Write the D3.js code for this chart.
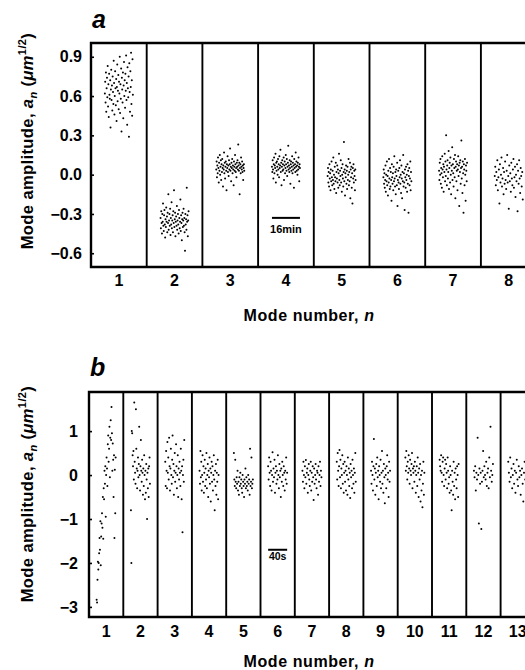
<!DOCTYPE html>
<html>
<head>
<meta charset="utf-8">
<script src="https://cdn.jsdelivr.net/npm/d3@7"></script>
<style>
  html, body { margin: 0; padding: 0; background: #fff; overflow: hidden; }
  svg { display: block; }
  text { font-family: "Liberation Sans", Arial, Helvetica, sans-serif; font-weight: bold; fill: #000; }
</style>
</head>
<body>
<svg id="chart" width="525" height="670"></svg>
<script>
// ---------- DATA (panel a: 8 modes, 16 min record) ----------
const modesA = [1, 2, 3, 4, 5, 6, 7, 8];
const ticksA = [-0.6, -0.3, 0.0, 0.3, 0.6, 0.9];
const a1 = [0.62,0.71,0.55,0.78,0.48,0.66,0.74,0.59,0.83,0.52,0.69,0.44,0.77,0.61,0.58,0.72,0.36,0.65,0.80,0.57,0.68,0.49,0.75,0.63,0.54,0.87,0.70,0.46,0.60,0.79,0.66,0.53,0.73,0.41,0.67,0.84,0.56,0.64,0.76,0.50,0.71,0.62,0.90,0.47,0.69,0.58,0.81,0.33,0.74,0.65,0.55,0.78,0.43,0.68,0.86,0.60,0.72,0.51,0.77,0.64,0.91,0.57,0.70,0.38,0.82,0.66,0.59,0.75,0.29,0.85,0.63,0.48,0.79,0.67,0.93,0.54,0.72,0.45,0.88,0.61];
const a2 = [-0.33,-0.41,-0.28,-0.37,-0.45,-0.30,-0.36,-0.22,-0.39,-0.43,-0.31,-0.27,-0.38,-0.48,-0.34,-0.40,-0.25,-0.36,-0.32,-0.44,-0.29,-0.37,-0.15,-0.42,-0.35,-0.30,-0.39,-0.26,-0.46,-0.33,-0.38,-0.21,-0.41,-0.35,-0.31,-0.44,-0.28,-0.37,-0.12,-0.40,-0.34,-0.29,-0.47,-0.36,-0.32,-0.39,-0.24,-0.42,-0.35,-0.30,-0.38,-0.45,-0.27,-0.33,-0.41,-0.36,-0.19,-0.43,-0.31,-0.37,-0.50,-0.34,-0.29,-0.40,-0.35,-0.26,-0.39,-0.33,-0.44,-0.58,-0.30,-0.38,-0.34,-0.42,-0.10,-0.36,-0.31,-0.47,-0.35,-0.28];
const a3 = [0.04,0.10,-0.02,0.07,0.01,0.13,0.05,-0.06,0.09,0.03,0.15,0.00,0.06,0.11,-0.04,0.08,0.02,0.12,0.05,-0.09,0.07,0.04,0.17,0.01,0.09,-0.03,0.06,0.10,0.03,-0.12,0.08,0.05,0.14,0.02,0.07,-0.01,0.11,0.04,0.08,0.20,0.03,0.06,-0.05,0.09,0.05,0.12,0.01,0.07,0.04,-0.08,0.10,0.06,0.03,0.15,0.08,0.02,0.05,-0.02,0.09,0.06,0.11,0.04,0.23,0.07,0.03,0.09,-0.15,0.05,0.08,0.01,0.13,0.06,0.04,0.10,0.02,0.07,-0.04,0.05,0.08,0.03];
const a4 = [0.06,0.02,0.11,0.04,-0.03,0.08,0.13,0.01,0.07,0.05,0.16,-0.06,0.09,0.03,0.10,0.06,0.00,0.12,0.04,0.08,-0.02,0.14,0.05,0.07,0.19,0.02,0.09,-0.08,0.06,0.11,0.03,0.08,0.04,0.13,-0.04,0.07,0.10,0.01,0.05,0.15,0.08,0.03,0.12,-0.01,0.06,0.09,0.22,0.04,0.07,0.02,0.11,0.05,-0.07,0.08,0.10,0.03,0.06,0.14,0.01,0.09,0.04,0.07,-0.10,0.12,0.05,0.08,0.02,0.17,0.06,0.10,0.03,0.07,0.00,0.09,0.04,0.13,0.06,-0.05,0.08,0.05];
const a5 = [-0.01,0.05,-0.06,0.02,-0.09,0.08,-0.03,0.01,-0.12,0.04,-0.05,0.10,-0.02,-0.08,0.03,-0.04,0.13,-0.07,0.00,-0.11,0.06,-0.02,-0.05,0.09,-0.14,0.02,-0.03,0.07,-0.06,0.04,-0.10,0.01,0.16,-0.04,-0.08,0.03,-0.01,0.11,-0.06,0.05,-0.13,0.00,0.08,-0.03,-0.09,0.02,0.25,-0.05,0.04,-0.16,0.01,-0.02,0.07,-0.07,0.03,-0.11,0.06,-0.04,0.00,0.12,-0.08,0.02,-0.05,0.09,-0.18,0.04,-0.02,0.06,-0.10,0.01,-0.22,0.05,-0.03,0.08,-0.06,0.03,-0.01,-0.12,0.04,-0.04];
const a6 = [-0.02,0.04,-0.07,0.01,-0.10,-0.04,0.07,-0.13,0.00,-0.05,0.10,-0.08,-0.01,-0.16,0.03,-0.06,0.12,-0.03,-0.11,0.05,-0.09,0.02,-0.04,-0.20,0.08,-0.02,-0.07,0.01,-0.12,0.06,-0.05,0.14,-0.03,-0.09,0.02,-0.15,0.04,-0.01,-0.08,0.09,-0.24,-0.04,0.03,-0.06,-0.11,0.05,-0.02,0.11,-0.07,0.00,-0.14,0.07,-0.03,-0.18,0.02,-0.05,0.15,-0.09,0.01,-0.06,-0.27,0.04,-0.02,-0.10,0.06,-0.04,0.00,-0.13,0.08,-0.07,0.03,-0.29,-0.01,0.05,-0.08,-0.03,0.10,-0.12,0.02,-0.05];
const a7 = [0.03,-0.04,0.09,0.00,0.12,-0.07,0.05,0.01,-0.10,0.14,0.04,-0.02,0.08,-0.13,0.06,0.02,0.16,-0.05,0.10,-0.01,0.30,0.04,-0.08,0.07,0.11,-0.03,0.02,0.18,-0.11,0.05,0.09,-0.06,0.13,0.00,-0.15,0.07,0.03,0.21,-0.04,0.08,0.01,-0.09,0.12,0.05,-0.02,0.15,-0.18,0.06,0.10,-0.05,0.03,0.08,-0.12,0.04,0.14,-0.01,0.07,-0.24,0.09,0.02,0.11,-0.07,0.05,0.26,-0.03,0.06,-0.14,0.10,0.01,-0.29,0.08,0.04,-0.08,0.12,0.00,-0.20,0.07,0.03,-0.05,0.09];
const a8 = [-0.01,0.06,-0.08,0.02,-0.04,0.11,-0.12,-0.02,0.04,-0.22,0.08,-0.06,0.00,0.13,-0.09,-0.03,0.05,-0.15,0.02,-0.07,0.10,-0.04,-0.11,0.03,0.15,-0.06,-0.01,-0.26,0.07,-0.05,0.01,-0.13,0.09,-0.03,-0.08,0.04,0.12,-0.10,-0.02,0.06,-0.17,0.00,-0.05,0.08,-0.28,0.03,-0.07,0.11,-0.03,-0.14,0.05,-0.01,-0.09,0.02,-0.19];

// ---------- DATA (panel b: 13 modes, 40 s record) ----------
const modesB = [1, 2, 3, 4, 5, 6, 7, 8, 9, 10, 11, 12, 13];
const ticksB = [-3, -2, -1, 0, 1];
const b1 = [-2.84,-2.90,-2.38,-1.97,-2.15,-2.00,-1.78,-1.43,-1.70,-1.05,-2.05,-1.40,-1.10,-0.87,-1.20,-0.50,-1.45,-0.30,-0.55,0.10,-0.20,0.20,-0.95,0.00,0.40,0.15,-0.25,0.70,0.90,0.30,0.60,1.10,-0.05,0.85,1.25,0.80,1.55,0.95,0.10,0.72,0.35,-0.50,0.45,-1.43,0.12,-0.87,0.40];
const b2 = [-0.80,-2.00,1.00,0.95,0.45,0.20,0.55,-0.10,1.65,0.30,0.05,-0.20,1.50,0.60,0.15,-0.30,0.10,0.40,-0.05,0.25,1.10,0.00,-0.35,0.20,0.80,0.10,-0.15,0.35,0.05,-0.45,0.15,-0.25,0.45,0.00,-0.55,0.10,-0.40,0.25,-0.10,-1.00,0.05,-0.30,0.15,-0.50,0.20,0.40,-0.20];
const b3 = [0.30,-0.25,0.55,0.10,-0.30,0.75,0.05,0.40,-0.10,0.85,0.20,-0.35,0.15,0.60,0.00,-0.20,0.35,0.90,-0.05,0.25,-0.45,0.10,0.50,-0.15,0.05,0.70,0.20,-0.30,0.00,0.45,-0.50,0.15,-0.10,0.30,0.05,-0.25,0.60,0.10,-0.55,0.20,-1.30,0.00,0.35,-0.15,0.80];
const b4 = [0.10,-0.20,0.55,-0.05,0.30,-0.35,0.00,0.45,-0.15,0.20,-0.40,0.05,0.35,-0.25,0.15,-0.10,0.50,-0.30,0.00,0.25,-0.50,0.10,-0.05,0.40,-0.20,0.15,-0.60,0.05,0.30,-0.15,0.20,-0.35,0.00,0.45,-0.10,-0.80,0.10,-0.25,0.25,-0.45,0.05,-0.15,0.35,-0.55,0.00];
const b5 = [0.50,-0.10,-0.25,0.35,-0.15,-0.30,-0.05,-0.20,0.10,-0.35,-0.15,-0.45,-0.05,-0.25,0.05,-0.20,-0.10,-0.30,-0.40,0.00,-0.15,-0.25,-0.50,-0.10,-0.20,0.15,-0.30,-0.05,-0.25,-0.15,-0.35,0.00,-0.20,-0.10,-0.45,0.60,-0.25,-0.15,0.40,-0.30,-0.20,-0.10];
const b6 = [0.20,-0.10,0.40,0.05,-0.25,0.30,0.10,-0.35,0.00,0.52,-0.15,0.15,-0.05,0.35,-0.40,0.05,0.20,-0.20,0.10,-0.10,0.45,0.00,-0.30,0.25,-0.05,0.10,-0.50,0.15,-0.15,0.30,0.00,-0.25,0.20,0.05,-0.35,0.10,-0.10,0.40,-0.20,0.05];
const b7 = [0.10,-0.15,0.30,0.00,-0.30,0.20,-0.05,0.34,-0.20,0.05,0.15,-0.40,0.00,0.25,-0.10,-0.25,0.10,0.30,-0.35,0.05,-0.15,0.20,-0.05,-0.57,0.15,-0.20,0.00,0.25,-0.10,-0.30,0.10,0.05,-0.45,0.20,-0.15,0.00,0.30,-0.25,0.10,-0.05];
const b8 = [0.30,-0.10,0.50,0.10,-0.25,0.20,0.57,-0.05,0.35,-0.30,0.15,0.00,0.45,-0.20,0.25,-0.40,0.05,0.30,-0.15,0.10,-0.35,0.20,0.00,-0.45,0.40,-0.10,0.15,-0.25,0.05,-0.52,0.25,-0.05,0.10,-0.30,0.35,0.00,-0.20,0.15,-0.40,0.05,0.50,-0.15];
const b9 = [0.10,-0.20,0.30,0.00,-0.35,0.20,0.82,-0.10,0.15,-0.45,0.05,0.25,-0.25,0.40,-0.05,0.10,-0.55,0.20,0.00,-0.15,0.35,-0.30,0.05,0.55,-0.20,0.10,-0.40,0.25,-0.05,-0.64,0.15,0.00,-0.30,0.20,0.45,-0.10,0.05,-0.50,0.30,-0.15,0.10];
const b10 = [0.40,0.10,0.55,0.20,-0.10,0.30,0.05,0.45,0.15,-0.20,0.35,0.10,0.00,0.25,0.50,-0.30,0.15,0.05,0.20,-0.15,0.30,0.10,-0.40,0.00,0.20,-0.25,0.40,0.05,-0.50,0.15,-0.10,0.25,-0.60,0.00,-0.35,0.10,-0.73,-0.20,0.30,-0.45,0.05];
const b11 = [0.35,0.20,0.10,0.45,0.05,-0.15,0.30,0.40,0.00,-0.25,0.15,0.35,-0.10,0.25,0.05,-0.30,0.40,0.10,-0.20,-0.05,-0.40,0.20,0.00,-0.35,-0.80,0.10,-0.15,-0.45,0.30,-0.25,0.05,-0.55,0.15,-0.10,-0.30,0.20,0.00,-0.50,0.25];
const b12 = [0.10,-0.05,0.20,-0.35,0.05,-0.10,0.85,0.00,-1.10,0.15,-0.20,0.05,-1.23,-0.15,0.10,0.55,-0.05,0.20,0.00,-0.10,0.30,-0.25,0.05,0.15,-0.30,0.40,-0.05,1.10,0.10,-0.15,0.00,0.25];
const b13 = [0.30,0.05,-0.15,0.40,-0.05,0.15,-0.30,0.00,0.25,-0.20,0.10,-0.40,0.05,0.35,-0.10,-0.25,0.20,-0.05,0.10,-0.45,0.00,0.15,-0.20,-0.60,0.05,0.30,-0.10,0.00,-0.35,0.15];

const seriesA = [a1, a2, a3, a4, a5, a6, a7, a8];
const seriesB = [b1, b2, b3, b4, b5, b6, b7, b8, b9, b10, b11, b12, b13];

// ---------- DRAWING ----------
const svg = d3.select("#chart");

function panel(cfg) {
  const g = svg.append("g");
  const x = d3.scaleBand().domain(cfg.modes).range([cfg.left, cfg.left + cfg.colW * cfg.modes.length]).padding(0);
  const y = d3.scaleLinear().domain(cfg.yDomain).range([cfg.bottom, cfg.top]);

  // points
  cfg.series.forEach((vals, k) => {
    const n = cfg.modes[k];
    const c = x(n) + x.bandwidth() / 2;
    const t = d3.scaleLinear().domain([0, vals.length - 1]).range([c - cfg.clusterW / 2, c + cfg.clusterW / 2]);
    g.append("g").selectAll("circle").data(vals).join("circle")
      .attr("cx", (d, i) => t(i))
      .attr("cy", d => y(d))
      .attr("r", 1.0)
      .attr("fill", "#000");
  });

  // column dividers
  g.append("g").selectAll("line").data(cfg.modes.slice(1)).join("line")
    .attr("x1", d => x(d)).attr("x2", d => x(d))
    .attr("y1", cfg.top).attr("y2", cfg.bottom)
    .attr("stroke", "#000").attr("stroke-width", 1.9);

  // frame
  const right = cfg.left + cfg.colW * cfg.modes.length;
  g.append("path")
    .attr("d", `M${right},${cfg.top}H${cfg.left}V${cfg.bottom}H${right}`)
    .attr("fill", "none").attr("stroke", "#000").attr("stroke-width", 2.4);

  // y axis
  const ya = g.append("g").attr("transform", `translate(${cfg.left},0)`)
    .call(d3.axisLeft(y).tickValues(cfg.ticks).tickFormat(cfg.fmt).tickSizeInner(-3).tickSizeOuter(0).tickPadding(cfg.yPad));
  ya.select(".domain").remove();
  ya.selectAll("line").attr("stroke-width", 1.6);
  ya.selectAll("text").attr("font-size", 16).attr("font-family", null);

  // x axis
  const xa = g.append("g").attr("transform", `translate(0,${cfg.bottom})`)
    .call(d3.axisBottom(x).tickSize(0).tickPadding(cfg.xPad));
  xa.select(".domain").remove();
  xa.selectAll("text").attr("font-size", 16).attr("font-family", null);

  // x title
  const xt = g.append("text").attr("x", 309).attr("y", cfg.xTitleY)
    .attr("text-anchor", "middle").attr("font-size", 16).attr("letter-spacing", 0.6);
  xt.append("tspan").text("Mode number, ");
  xt.append("tspan").attr("font-style", "italic").text("n");

  // y title
  const yt = g.append("text")
    .attr("transform", `translate(33,${cfg.yTitleY}) rotate(-90)`)
    .attr("text-anchor", "middle").attr("font-size", 16.5).attr("letter-spacing", 0.4);
  yt.append("tspan").text("Mode amplitude, ");
  yt.append("tspan").attr("font-style", "italic").text("a");
  yt.append("tspan").attr("font-style", "italic").attr("font-size", 11).attr("dy", 4).text("n");
  yt.append("tspan").attr("dy", -4).text(" (");
  yt.append("tspan").attr("font-style", "italic").text("\u03BCm");
  yt.append("tspan").attr("font-size", 11).attr("dy", -7).text("1/2");
  yt.append("tspan").attr("dy", 7).text(")");

  // panel letter
  g.append("text").attr("x", cfg.left + 1).attr("y", cfg.letterY)
    .attr("font-size", 25).attr("font-style", "italic").text(cfg.letter);

  // scale bar (cluster width = record duration)
  const sc = x(cfg.barMode) + x.bandwidth() / 2;
  g.append("line")
    .attr("x1", sc - cfg.clusterW / 2).attr("x2", sc + cfg.clusterW / 2)
    .attr("y1", y(cfg.barY)).attr("y2", y(cfg.barY))
    .attr("stroke", "#000").attr("stroke-width", 2);
  g.append("text").attr("x", sc).attr("y", y(cfg.barY) + cfg.barTextDy)
    .attr("text-anchor", "middle").attr("font-size", cfg.barFont).text(cfg.barLabel);
}

panel({
  modes: modesA, series: seriesA, ticks: ticksA, fmt: d3.format(".1f"),
  left: 91, colW: 55.7, top: 43, bottom: 267, yDomain: [-0.705, 1.005],
  clusterW: 28, yPad: 9, xPad: 8, xTitleY: 321, yTitleY: 141,
  letter: "a", letterY: 28, barMode: 4, barY: -0.33, barTextDy: 15, barFont: 11, barLabel: "16min"
});

panel({
  modes: modesB, series: seriesB, ticks: ticksB, fmt: d3.format("d"),
  left: 89, colW: 34.3, top: 392, bottom: 617, yDomain: [-3.23, 1.89],
  clusterW: 19, yPad: 11, xPad: 9, xTitleY: 667, yTitleY: 494,
  letter: "b", letterY: 376, barMode: 6, barY: -1.7, barTextDy: 10, barFont: 10.5, barLabel: "40s"
});
</script>
</body>
</html>
